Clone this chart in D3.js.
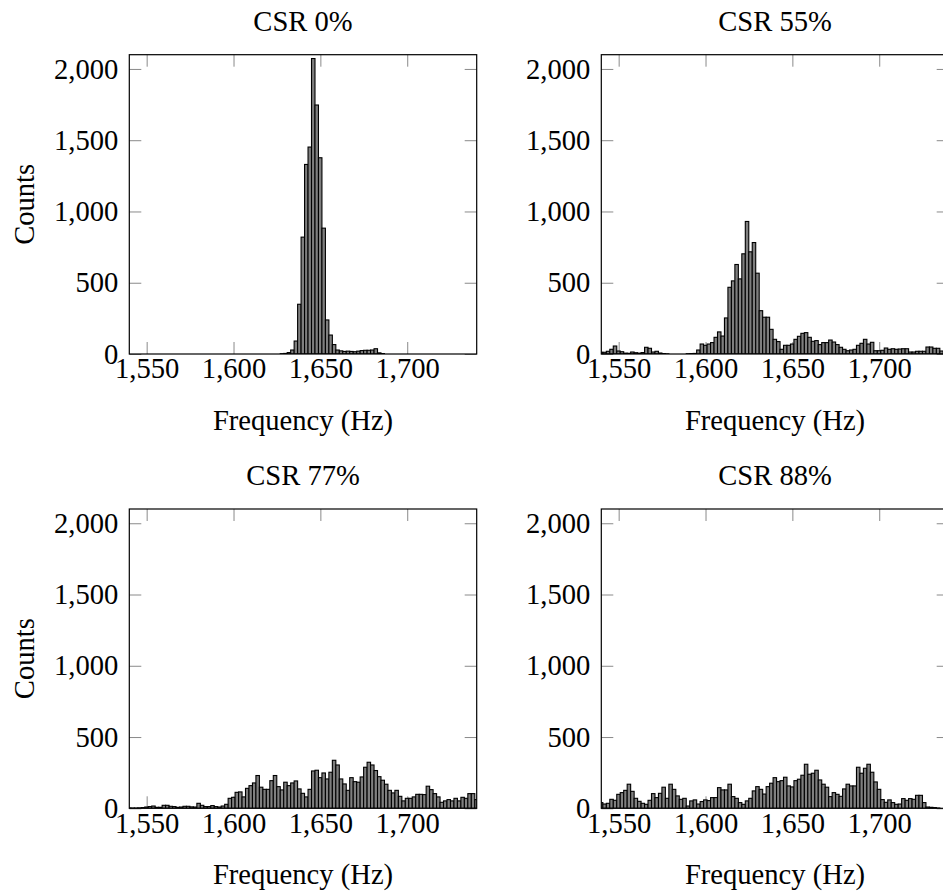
<!DOCTYPE html>
<html><head><meta charset="utf-8">
<script src="https://cdn.jsdelivr.net/npm/d3@7"></script>
<style>
body{margin:0;background:#fff;overflow:hidden}
text{font-family:"Liberation Serif","DejaVu Serif",serif;fill:#000}
</style>
</head><body><svg id="c" width="943" height="896"></svg>
<script>
// ---------------- data ----------------
const binStart = 1538.9;   // left edge of first bin (Hz)
const binWidth = 2;        // Hz
const xDomain = [1540, 1740];
const yDomain = [0, 2100];
const xTicks = [1550, 1600, 1650, 1700];
const yTicks = [0, 500, 1000, 1500, 2000];
const titles = ["CSR 0%", "CSR 55%", "CSR 77%", "CSR 88%"];
const xLabel = "Frequency (Hz)";
const yLabel = "Counts";

const counts0 = [
  0,0,0,0,0,0,0,0,0,0,
  0,0,0,0,0,0,0,0,0,0,
  0,0,0,0,0,0,0,0,0,0,
  0,0,0,0,0,0,0,0,0,0,
  0,0,0,0,2,4,10,28,91,349,
  820,1330,1452,2073,1747,1377,883,239,133,66,
  28,22,18,20,18,16,20,24,26,26,
  28,37,8,3,0,0,0,0,0,0,
  0,0,0,0,0,0,0,0,0,0,
  0,0,0,0,0,0,0,0,0,0,
  0];
const counts55 = [
  12,12,19,33,56,21,16,6,5,14,
  9,6,10,47,40,14,19,7,3,1,
  0,0,0,0,0,2,3,4,28,70,
  61,70,80,117,155,126,253,468,513,628,
  527,703,930,717,782,567,304,258,258,173,
  103,87,33,61,61,70,103,124,145,150,
  117,89,94,66,80,80,98,84,66,47,
  33,23,28,33,61,75,103,70,82,23,
  23,26,42,33,37,33,35,37,37,14,
  14,19,19,19,49,49,40,40,21,19,
  19];
const counts77 = [
  2,2,2,3,5,9,12,16,7,7,
  21,21,14,12,7,9,14,14,10,9,
  35,21,12,12,19,12,9,16,28,70,
  77,112,115,80,140,159,178,230,148,133,
  133,194,230,152,129,183,159,178,192,136,
  105,80,133,262,267,215,248,206,253,337,
  304,206,171,126,215,187,183,220,288,323,
  304,265,222,197,169,126,108,126,84,52,
  70,70,80,98,98,96,155,131,103,80,
  42,52,61,52,70,52,77,70,103,103,
  61];
const counts88 = [
  40,30,35,63,56,98,110,126,169,119,
  70,49,35,28,56,103,75,105,148,70,
  169,133,87,63,70,16,52,59,30,47,
  59,54,75,75,145,129,129,169,82,70,
  40,28,52,70,122,152,133,100,152,176,
  215,187,194,218,157,150,194,204,232,309,
  239,246,267,199,169,148,82,110,98,84,
  136,169,157,157,288,246,281,309,253,185,
  133,61,42,59,40,28,30,68,56,68,
  63,91,91,40,9,7,5,2,0,0,
  0];
const seriesList = [counts0, counts55, counts77, counts88];

// ---------------- layout ----------------
const W = 347.4, H = 299.3;
const FS = 28.6;
const layout = [
  {left: 129.3, top: 54.7, ylab: true},
  {left: 601.3, top: 54.7, ylab: false},
  {left: 129.3, top: 509.0, ylab: true},
  {left: 601.3, top: 509.0, ylab: false}
];

const svg = d3.select("#c");
const fmt = d3.format(",");

layout.forEach((p, i) => {
  const counts = seriesList[i];
  const bins = counts.map((c, j) => ({x0: binStart + j * binWidth, x1: binStart + (j + 1) * binWidth, c}));
  const x = d3.scaleLinear().domain(xDomain).range([0, W]);
  const y = d3.scaleLinear().domain(yDomain).range([H, 0]);
  const g = svg.append("g").attr("transform", `translate(${p.left},${p.top})`);

  // ticks (inward, gray)
  const tk = g.append("g");
  tk.append("g").attr("transform", `translate(0,${H})`)
    .call(d3.axisBottom(x).tickValues(xTicks).tickSize(-12).tickPadding(4).tickFormat(fmt));
  tk.append("g")
    .call(d3.axisTop(x).tickValues(xTicks).tickSize(-12).tickFormat(""));
  tk.append("g")
    .call(d3.axisLeft(y).tickValues(yTicks).tickSize(-12).tickPadding(11).tickFormat(fmt));
  tk.append("g").attr("transform", `translate(${W},0)`)
    .call(d3.axisRight(y).tickValues(yTicks).tickSize(-12).tickFormat(""));
  tk.selectAll(".domain").remove();
  tk.selectAll(".tick line").attr("stroke", "#8a8a8a").attr("stroke-width", 1);
  tk.selectAll(".tick text")
    .attr("font-family", '"Liberation Serif","DejaVu Serif",serif')
    .attr("font-size", FS).attr("fill", "#000");

  // clip
  const cid = "clip" + i;
  g.append("clipPath").attr("id", cid).append("rect")
    .attr("x", 0).attr("y", -2).attr("width", W).attr("height", H + 2);

  // bars
  g.append("g").attr("clip-path", `url(#${cid})`)
    .selectAll("rect").data(bins).join("rect")
    .attr("x", d => x(d.x0))
    .attr("width", d => x(d.x1) - x(d.x0))
    .attr("y", d => y(d.c))
    .attr("height", d => y(0) - y(d.c))
    .attr("fill", "#7f7f7f")
    .attr("stroke", "#000")
    .attr("stroke-width", 1.1);

  // frame
  g.append("rect").attr("x", 0).attr("y", 0).attr("width", W).attr("height", H)
    .attr("fill", "none").attr("stroke", "#000").attr("stroke-width", 1.2);

  // title
  g.append("text").attr("x", W / 2).attr("y", -23.8)
    .attr("text-anchor", "middle").attr("font-size", FS).text(titles[i]);
  // x label
  g.append("text").attr("x", W / 2).attr("y", H + 75.8)
    .attr("text-anchor", "middle").attr("font-size", FS).text(xLabel);
  // y label
  if (p.ylab) {
    g.append("text")
      .attr("transform", `translate(${34 - p.left},${H / 2}) rotate(-90)`)
      .attr("text-anchor", "middle").attr("font-size", FS).text(yLabel);
  }
});
</script>
</body></html>
